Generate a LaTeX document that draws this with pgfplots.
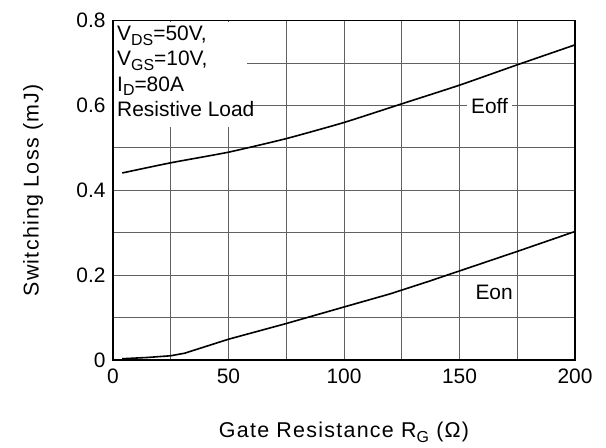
\documentclass[border=0pt]{standalone}
\usepackage{fontspec}
\setmainfont{Liberation Sans}
\usepackage{pgfplots}
\pgfplotsset{compat=1.18}
\newcommand{\sub}[1]{\raisebox{-0.22em}{\fontsize{16}{16}\selectfont #1}}
\newcommand{\labfont}{\fontsize{21.5}{24}\selectfont\addfontfeature{LetterSpace=6}}
\begin{document}
\begin{tikzpicture}
\path[use as bounding box] (-113bp,-88bp) rectangle (493bp,360bp);
\begin{axis}[
  at={(0,0)}, anchor=south west,
  scale only axis, width=462bp, height=339.3bp,
  xmin=0, xmax=200, ymin=0, ymax=0.8,
  xtick={0,50,100,150,200}, ytick={0,0.2,0.4,0.6,0.8},
  minor xtick={25,75,125,175}, minor ytick={0.1,0.3,0.5,0.7},
  grid=both,
  major grid style={draw=black!62, line width=0.9bp},
  minor grid style={draw=black!62, line width=0.9bp},
  axis line style={line width=1.3bp},
  tick style={draw=none},
  /pgf/number format/assume math mode=true,
  /pgf/number format/fixed, /pgf/number format/precision=1,
  tick label style={font=\fontsize{21}{24}\selectfont},
  yticklabel style={xshift=-4bp},
  xticklabel style={yshift=-5bp},
  xlabel={Gate Resistance R\sub{G} (Ω)},
  ylabel={Switching Loss (mJ)},
  label style={font=\labfont},
  xlabel style={at={([yshift=-72bp]axis description cs:0.5,0)}, anchor=center},
  ylabel style={at={([xshift=-80bp]axis description cs:0,0.5)}, anchor=center},
  clip=false,
]
\fill[white] ([xshift=1bp]axis cs:0,0.549) rectangle ([yshift=-1bp]axis cs:58,0.8);
\node[anchor=north west, align=left, inner sep=0pt, font=\fontsize{21}{25.5}\selectfont]
  at ([xshift=4bp,yshift=-5bp]axis cs:0,0.8)
  {V\sub{DS}=50V,\\V\sub{GS}=10V,\\I\sub{D}=80A\\Resistive Load};
\addplot[black, line width=1.6bp, smooth, tension=0.3] coordinates {
  (4,0.441) (25,0.465) (50,0.490) (75,0.522) (100,0.560) (125,0.604)
  (150,0.648) (175,0.696) (200,0.743)};
\addplot[black, line width=1.6bp] coordinates {
  (4,0.003) (15,0.006) (25,0.010) (31,0.016) (50,0.049) (75,0.086)
  (100,0.125) (120,0.156) (137,0.186) (150,0.210) (175,0.256) (200,0.303)};
\node[fill=white, inner xsep=4bp, inner ysep=2bp, font=\fontsize{21}{24}\selectfont]
  at (axis cs:163,0.599) {Eoff};
\node[fill=white, inner xsep=3bp, inner ysep=2bp, font=\fontsize{21}{24}\selectfont]
  at (axis cs:165,0.159) {Eon};
\end{axis}
\end{tikzpicture}
\end{document}
